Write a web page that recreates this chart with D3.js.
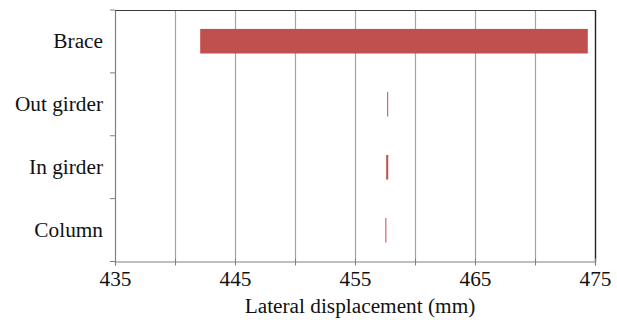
<!DOCTYPE html>
<html>
<head>
<meta charset="utf-8">
<script src="https://cdn.jsdelivr.net/npm/d3@7"></script>
<style>
  body { margin: 0; background: #fff; }
  text { font-family: "Liberation Serif", "Times New Roman", serif; }
</style>
</head>
<body>
<div id="graph"></div>
<script>
// Chart data
const categories = ["Brace", "Out girder", "In girder", "Column"];
const startValues = [442.1, 457.68, 457.6, 457.53];
const endValues = [474.4, 457.76, 457.77, 457.61];
const tickValues = [435, 440, 445, 450, 455, 460, 465, 470, 475];
const labelledTicks = [435, 445, 455, 465, 475];

drawChart();

function drawChart() {
  const w = 617;
  const h = 320;
  const left = 115, right = 595, top = 10, bottom = 261.5;
  const fontSize = "21.3px";

  const svg = d3.select("#graph")
    .append("svg")
    .attr("width", w)
    .attr("height", h);

  // Scales
  const xScale = d3.scaleLinear()
    .domain([435, 475])
    .range([left, right]);

  const yScale = d3.scaleBand()
    .domain(categories)
    .range([top, bottom])
    .paddingInner(0.61)
    .paddingOuter(0.3);

  // Grid lines
  svg.append("g")
    .selectAll("line")
    .data(tickValues.slice(1, -1))
    .enter()
    .append("line")
    .attr("x1", (d) => Math.round(xScale(d)) + 0.5)
    .attr("x2", (d) => Math.round(xScale(d)) + 0.5)
    .attr("y1", top)
    .attr("y2", bottom)
    .attr("stroke", "#a3a3a3")
    .attr("stroke-width", 1.2);

  // Bars
  const data = categories.map((c, i) => ({ cat: c, a: startValues[i], b: endValues[i] }));
  svg.append("g")
    .selectAll("rect")
    .data(data)
    .enter()
    .append("rect")
    .attr("x", (d) => xScale(d.a))
    .attr("y", (d) => yScale(d.cat))
    .attr("width", (d) => Math.max(1, xScale(d.b) - xScale(d.a)))
    .attr("height", yScale.bandwidth())
    .attr("fill", "#c0504d");

  // Frame: top and right
  svg.append("line")
    .attr("x1", left).attr("x2", right)
    .attr("y1", top + 0.5).attr("y2", top + 0.5)
    .attr("stroke", "#3a3a3a").attr("stroke-width", 1.2);
  svg.append("line")
    .attr("x1", right + 0.5).attr("x2", right + 0.5)
    .attr("y1", top).attr("y2", bottom)
    .attr("stroke", "#222").attr("stroke-width", 1.4);

  // X axis
  const xAxis = d3.axisBottom(xScale)
    .tickValues(tickValues)
    .tickSize(4)
    .tickPadding(5)
    .tickFormat((d) => labelledTicks.includes(d) ? d : "");

  const gx = svg.append("g")
    .attr("transform", `translate(0,${bottom})`)
    .call(xAxis);
  gx.select(".domain").attr("stroke", "#808080").attr("stroke-width", 1.2);
  gx.selectAll(".tick line").attr("stroke", "#808080").attr("y1", -3);
  gx.selectAll(".tick text")
    .attr("fill", "#111")
    .style("font-size", fontSize)
    .style("font-family", "'Liberation Serif', serif");

  // Y axis
  const yAxis = d3.axisLeft(yScale).tickSize(0).tickPadding(12);
  const gy = svg.append("g")
    .attr("transform", `translate(${left},0)`)
    .call(yAxis);
  gy.select(".domain").attr("stroke", "#808080").attr("stroke-width", 1.2);
  gy.selectAll(".tick text")
    .attr("fill", "#111")
    .style("font-size", fontSize)
    .style("font-family", "'Liberation Serif', serif");

  // Category boundary ticks
  const boundaries = d3.range(categories.length + 1).map((i) => top + (bottom - top) * i / categories.length);
  gy.selectAll(".bound")
    .data(boundaries)
    .enter()
    .append("line")
    .attr("class", "bound")
    .attr("x1", -5).attr("x2", 0)
    .attr("y1", (d) => d).attr("y2", (d) => d)
    .attr("stroke", "#808080");

  // Axis title
  svg.append("text")
    .attr("x", 360)
    .attr("y", 313)
    .attr("text-anchor", "middle")
    .attr("fill", "#111")
    .style("font-size", fontSize)
    .text("Lateral displacement (mm)");
}
</script>
</body>
</html>
